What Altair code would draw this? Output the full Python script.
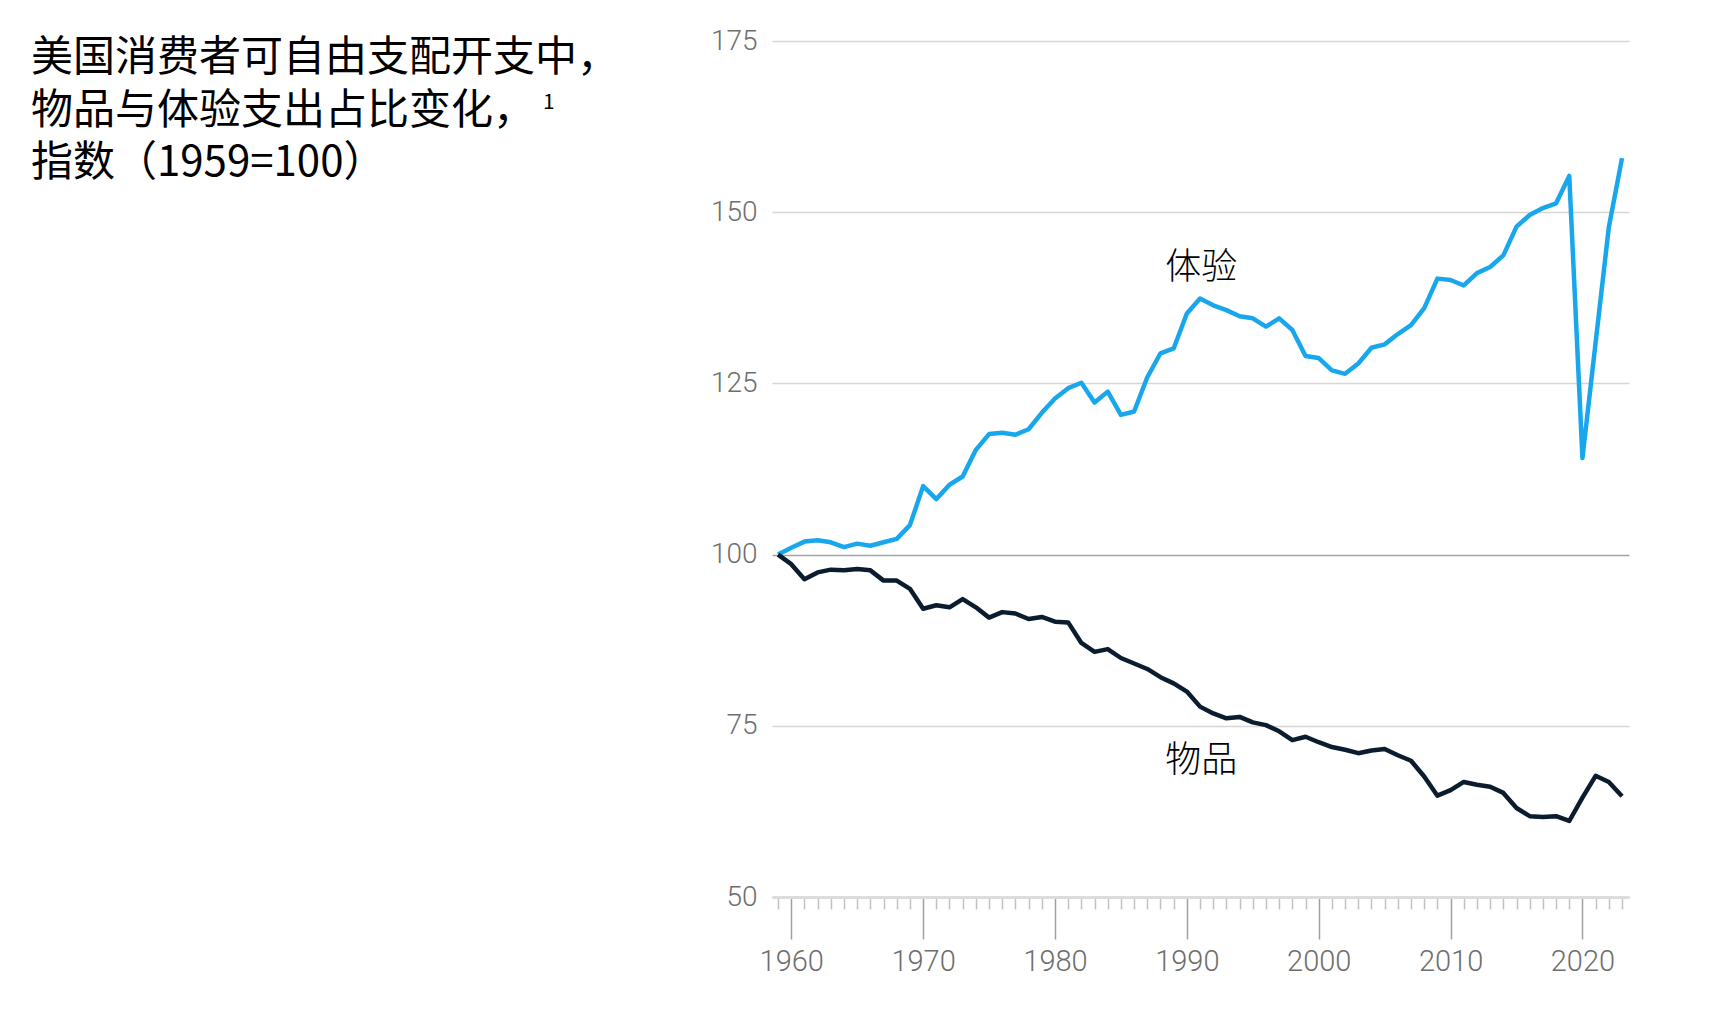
import altair as alt
import pandas as pd

# ---------------- data ----------------
YEARS = list(range(1959, 2024))

EXPERIENCES = [
    100.0, 101.0, 101.9, 102.1, 101.8, 101.1, 101.6, 101.3, 101.8, 102.3,  # 1959-1968
    104.3, 110.0, 108.1, 110.2, 111.4, 115.3, 117.6, 117.8, 117.5, 118.3,  # 1969-1978
    120.7, 122.8, 124.3, 125.1, 122.2, 123.8, 120.4, 120.9, 125.9, 129.4,  # 1979-1988
    130.1, 135.2, 137.4, 136.4, 135.7, 134.8, 134.5, 133.3, 134.5, 132.8,  # 1989-1998
    129.0, 128.7, 126.9, 126.4, 127.9, 130.2, 130.7, 132.2, 133.5, 136.0,  # 1999-2008
    140.3, 140.1, 139.3, 141.1, 142.0, 143.7, 147.9, 149.6, 150.6, 151.3,  # 2009-2018
    155.3, 114.1, 131.0, 147.8, 157.9,                                     # 2019-2023
]

GOODS = [
    100.0, 98.6, 96.4, 97.4, 97.8, 97.7, 97.9, 97.7, 96.2, 96.2,           # 1959-1968
    95.0, 92.1, 92.6, 92.3, 93.5, 92.3, 90.8, 91.6, 91.4, 90.6,            # 1969-1978
    90.9, 90.2, 90.1, 87.1, 85.8, 86.2, 84.9, 84.1, 83.3, 82.1,            # 1979-1988
    81.2, 80.0, 77.8, 76.8, 76.1, 76.3, 75.5, 75.1, 74.2, 72.9,            # 1989-1998
    73.4, 72.6, 71.9, 71.5, 71.0, 71.4, 71.6, 70.7, 69.9, 67.6,            # 1999-2008
    64.8, 65.6, 66.8, 66.4, 66.1, 65.2, 63.0, 61.8, 61.7, 61.8,            # 2009-2018
    61.1, 64.5, 67.7, 66.8, 64.7,                                          # 2019-2023
]

SERIES = ["体验", "物品"]
SERIES_COLORS = ["#18A7EC", "#0A1C2E"]

LABEL_TEXT = ["体验", "物品"]
LABEL_YEAR = [1991.1, 1991.1]
LABEL_VALUE = [141.8, 69.8]

TITLE_LINES = ["美国消费者可自由支配开支中，", "物品与体验支出占比变化，", "指数（1959=100）"]
FOOTNOTE_MARK = "1"

Y_TICKS = [50, 75, 100, 125, 150, 175]

# ---------------- tables ----------------
lines_df = pd.DataFrame({
    "year": YEARS * 2,
    "value": EXPERIENCES + GOODS,
    "series": [SERIES[0]] * len(YEARS) + [SERIES[1]] * len(YEARS),
})
labels_df = pd.DataFrame({"year": LABEL_YEAR, "value": LABEL_VALUE, "label": LABEL_TEXT})

CJK = "Noto Sans CJK SC"
NUM = "Roboto"

x_scale = alt.Scale(domain=[1958.54, 2023.53], nice=False, zero=False)
y_scale = alt.Scale(domain=[50, 175], nice=False, zero=False)

x_axis = alt.Axis(
    values=YEARS,
    tickCount=len(YEARS) + 10,
    title=None,
    grid=False,
    labelExpr="datum.value % 10 === 0 ? format(datum.value, 'd') : ''",
    labelOverlap=False,
    labelFlush=False,
    labelFont=NUM,
    labelFontWeight=300,
    labelFontSize=29,
    labelColor="#6e6e6e",
    labelPadding=8,
    tickSize=alt.condition("datum.value % 10 === 0", alt.value(42), alt.value(12)),
    tickColor=alt.condition("datum.value % 10 === 0", alt.value("#a0a0a0"), alt.value("#c2c2c2")),
    tickWidth=1.5,
    domain=True,
    domainColor="#dcdcdc",
    domainWidth=3,
)

y_axis = alt.Axis(
    values=Y_TICKS,
    title=None,
    domain=False,
    ticks=False,
    tickSize=0,
    labelPadding=15,
    labelFont=NUM,
    labelFontWeight=300,
    labelFontSize=28,
    labelColor="#6e6e6e",
    gridColor=alt.condition("datum.value === 100", alt.value("#a3a3a3"), alt.value("#d6d6d6")),
    gridWidth=1.4,
)

lines = alt.Chart(lines_df).mark_line(strokeWidth=4.5, strokeJoin="round").encode(
    x=alt.X("year:Q", scale=x_scale, axis=x_axis),
    y=alt.Y("value:Q", scale=y_scale, axis=y_axis),
    color=alt.Color("series:N", scale=alt.Scale(domain=SERIES, range=SERIES_COLORS), legend=None),
    detail="series:N",
)

labels = alt.Chart(labels_df).mark_text(
    font=CJK, fontSize=36, fontWeight=300, color="#000000", align="center", baseline="middle"
).encode(
    x=alt.X("year:Q", scale=x_scale),
    y=alt.Y("value:Q", scale=y_scale),
    text="label:N",
)

layers = [lines, labels]

# title lines, stacked at the top-left of the figure
TITLE_Y = [17, 70, 122]
for line, ty in zip(TITLE_LINES, TITLE_Y):
    layers.append(
        alt.Chart(pd.DataFrame({"text": [line]})).mark_text(
            font=CJK, fontSize=42, color="#000000", align="left", baseline="middle",
        ).encode(x=alt.value(-741), y=alt.value(ty), text="text:N")
    )

layers.append(
    alt.Chart(pd.DataFrame({"text": [FOOTNOTE_MARK]})).mark_text(
        font=CJK, fontSize=21, color="#000000", align="left", baseline="middle",
    ).encode(x=alt.value(-229), y=alt.value(62), text="text:N")
)

chart = alt.layer(*layers).properties(
    width=857,
    height=856,
    autosize=alt.AutoSizeParams(type="none"),
    padding={"left": 764, "top": 33, "right": 60, "bottom": 100},
    background="white",
).configure_view(stroke=None)

chart.save("out.html", embed_options={"renderer": "svg", "actions": False})
